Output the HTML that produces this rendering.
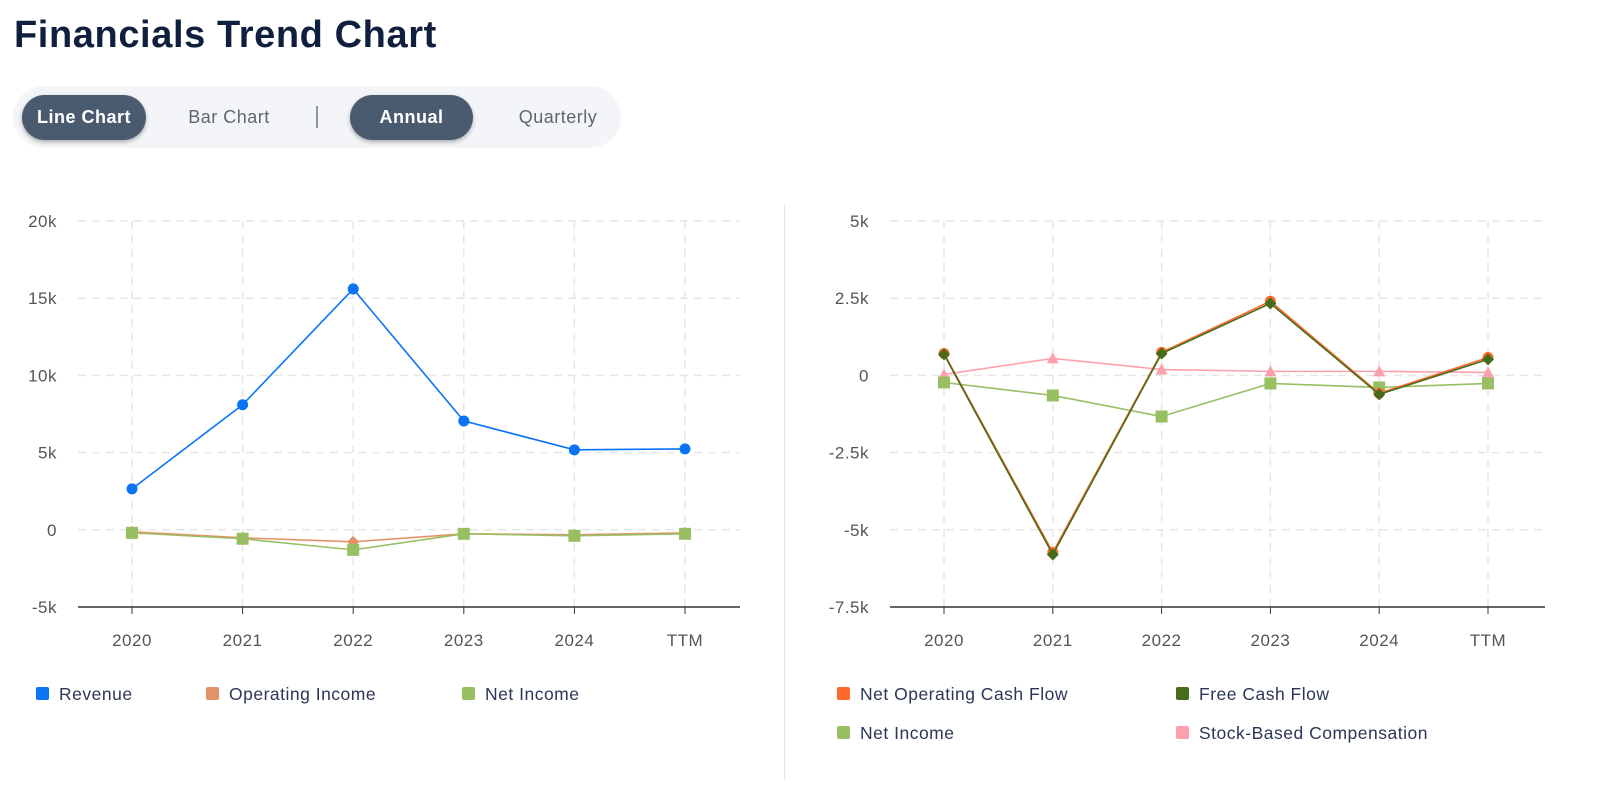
<!DOCTYPE html>
<html><head><meta charset="utf-8"><style>
body{margin:0;width:1599px;height:801px;background:#fff;font-family:"Liberation Sans",sans-serif;overflow:hidden;position:relative}
h1{position:absolute;left:14px;top:14px;margin:0;font-size:38px;font-weight:bold;color:#0f1f3d;letter-spacing:0.6px}
.tog{position:absolute;left:13px;top:86px;width:608px;height:62px;background:#f3f5f9;border-radius:31px}
.btn{position:absolute;top:9px;height:45px;line-height:45px;border-radius:23px;font-size:18px;text-align:center;color:#5f6670;letter-spacing:0.5px}
.on{background:#4b5b6f;color:#fff;font-weight:bold;box-shadow:0 2px 4px rgba(0,0,0,.3)}
.sep{position:absolute;left:303px;top:20px;width:2px;height:22px;background:#8a96a6}
.div{position:absolute;left:784px;top:205px;width:1px;height:575px;background:#e3e3e3}
svg text{letter-spacing:0.5px}
</style></head><body>
<h1>Financials Trend Chart</h1>
<div class="tog">
<div class="btn on" style="left:9px;width:124px">Line Chart</div>
<div class="btn" style="left:158px;width:116px">Bar Chart</div>
<div class="sep"></div>
<div class="btn on" style="left:337px;width:123px">Annual</div>
<div class="btn" style="left:490px;width:110px">Quarterly</div>
</div>
<div class="div"></div>
<svg id="svg" width="1599" height="801" style="position:absolute;left:0;top:0"></svg>
<script>
const categories=["2020","2021","2022","2023","2024","TTM"];
const leftTicks=[20000,15000,10000,5000,0,-5000];
const leftTickLabels=["20k","15k","10k","5k","0","-5k"];
const revenue=[2650,8100,15600,7050,5180,5240];
const opIncome=[-130,-520,-780,-260,-320,-200];
const netIncomeL=[-200,-580,-1300,-260,-390,-260];
const rightTicks=[5000,2500,0,-2500,-5000,-7500];
const rightTickLabels=["5k","2.5k","0","-2.5k","-5k","-7.5k"];
const nocf=[710,-5730,745,2400,-580,580];
const fcf=[680,-5800,710,2330,-615,520];
const netIncomeR=[-230,-650,-1330,-260,-390,-260];
const sbc=[30,550,190,130,130,95];

const svg=document.getElementById('svg');
const NS="http://www.w3.org/2000/svg";
function mk(t,a,p){const e=document.createElementNS(NS,t);for(const k in a)e.setAttribute(k,a[k]);(p||svg).appendChild(e);return e;}

function chart(cfg){
  const g=mk('g',{});
  
  
  const y=v=>cfg.y0+(cfg.max-v)/(cfg.max-cfg.min)*(cfg.y1-cfg.y0);
  const x=i=>cfg.cx0+i*(cfg.cx1-cfg.cx0)/(categories.length-1);
  cfg.ticks.forEach((t,i)=>{
    if(i<cfg.ticks.length-1){const l=mk('line',{x1:cfg.px0,x2:cfg.px1,y1:y(t),y2:y(t),stroke:'#e6e6e6','stroke-width':1.5,'stroke-dasharray':'8,6'},g);
    }
    const tx=mk('text',{x:cfg.lx,y:y(t)+6,'text-anchor':'end','font-size':17,fill:'#555'},g);tx.textContent=cfg.labels[i];
    
  });
  categories.forEach((c,i)=>{
    const l=mk('line',{x1:x(i),x2:x(i),y1:cfg.y0,y2:cfg.y1,stroke:'#e6e6e6','stroke-width':1.5,'stroke-dasharray':'8,6'},g);
    
    const tk=mk('line',{x1:x(i),x2:x(i),y1:cfg.y1,y2:cfg.y1+7,stroke:'#333'},g);
    
    const tx=mk('text',{x:x(i),y:cfg.y1+39,'text-anchor':'middle','font-size':17,fill:'#555'},g);tx.textContent=c;
    
  });
  const ax=mk('line',{x1:cfg.px0,x2:cfg.px1,y1:cfg.y1,y2:cfg.y1,stroke:'#333','stroke-width':1.5},g);
  
  cfg.series.forEach(s=>{
    const pts=s.data.map((v,i)=>x(i)+','+y(v)).join(' ');
    const pl=mk('polyline',{points:pts,fill:'none',stroke:s.color,'stroke-width':1.6},g);
    
    s.data.forEach((v,i)=>{
      const X=x(i),Y=y(v);let m;
      if(s.shape==='circle')m=mk('circle',{cx:X,cy:Y,r:5.5,fill:s.color},g);
      else if(s.shape==='square')m=mk('rect',{x:X-6,y:Y-6,width:12,height:12,fill:s.color},g);
      else if(s.shape==='diamond')m=mk('polygon',{points:`${X},${Y-6} ${X+6},${Y} ${X},${Y+6} ${X-6},${Y}`,fill:s.color},g);
      else m=mk('polygon',{points:`${X},${Y-6} ${X+6},${Y+5} ${X-6},${Y+5}`,fill:s.color},g);
      
    });
    const lg=mk('rect',{x:s.lx,y:s.ly-7,width:13,height:13,rx:2,fill:s.color},g);
    
    const lt=mk('text',{x:s.lx+23,y:s.ly+6,'font-size':17.5,fill:'#2c3657'},g);lt.textContent=s.label;
    
  });
}
chart({name:'income-chart',max:20000,min:-5000,y0:221,y1:607,cx0:132,cx1:685,px0:78,px1:740,lx:57,ticks:leftTicks,labels:leftTickLabels,
 series:[
  {id:'revenue',label:'Revenue',data:revenue,color:'#0a74f5',shape:'circle',lx:36,ly:694},
  {id:'operating-income',label:'Operating Income',data:opIncome,color:'#e4916a',shape:'diamond',lx:206,ly:694},
  {id:'net-income',label:'Net Income',data:netIncomeL,color:'#98c062',shape:'square',lx:462,ly:694}]});
chart({name:'cashflow-chart',max:5000,min:-7500,y0:221,y1:607,cx0:944,cx1:1488,px0:890,px1:1545,lx:869,ticks:rightTicks,labels:rightTickLabels,
 series:[
  {id:'stock-based-compensation',label:'Stock-Based Compensation',data:sbc,color:'#fda0ad',shape:'triangle',lx:1176,ly:733},
  {id:'net-income-cf',label:'Net Income',data:netIncomeR,color:'#98c062',shape:'square',lx:837,ly:733},
  {id:'net-operating-cash-flow',label:'Net Operating Cash Flow',data:nocf,color:'#ff6a2c',shape:'circle',lx:837,ly:694},
  {id:'free-cash-flow',label:'Free Cash Flow',data:fcf,color:'#476b1c',shape:'diamond',lx:1176,ly:694}]});
</script>
</body></html>
